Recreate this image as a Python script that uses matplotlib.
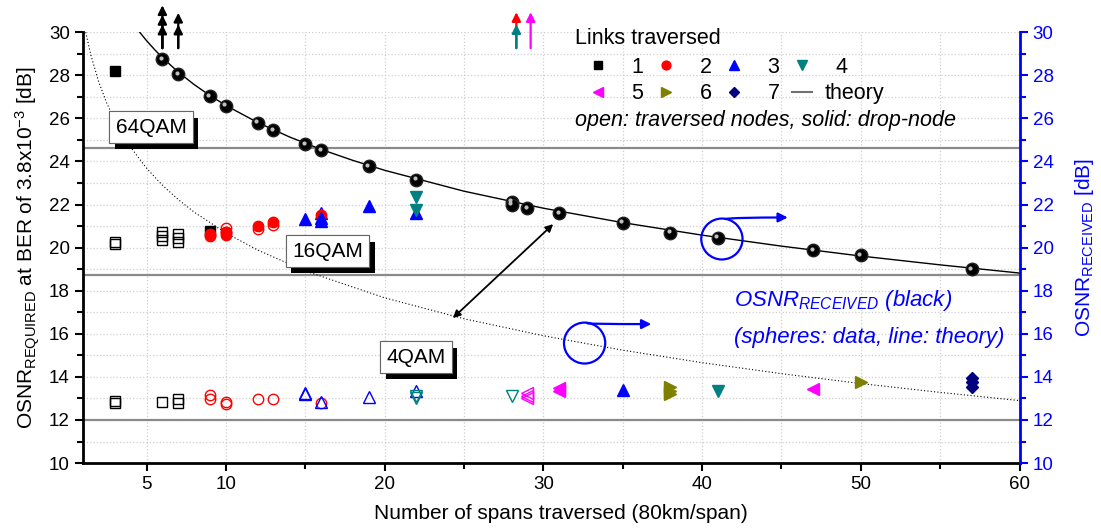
import numpy as np
import matplotlib.pyplot as plt
import matplotlib.patheffects as pe
import matplotlib.transforms as mtransforms
from matplotlib.patches import Ellipse
from matplotlib.lines import Line2D
from matplotlib.ticker import MultipleLocator, FixedLocator

plt.rcParams['font.family'] = ['Liberation Sans', 'DejaVu Sans']
plt.rcParams['mathtext.fontset'] = 'custom'
plt.rcParams['mathtext.rm'] = 'Liberation Sans'
plt.rcParams['mathtext.it'] = 'Liberation Sans:italic'
plt.rcParams['mathtext.bf'] = 'Liberation Sans:bold'

# received OSNR (spheres) and its theory line
rx_spans = [6, 7, 9, 10, 12, 13, 15, 16, 19, 22, 28, 28, 29, 31, 35, 38, 41, 47, 50, 57]
rx_osnr = [28.75, 28.05, 27.03, 26.57, 25.8, 25.45, 24.8, 24.52, 23.78, 23.15,
           22.12, 21.98, 21.83, 21.6, 21.14, 20.7, 20.45, 19.88, 19.65, 19.0]
rx_theory_spans = [4.57, 5, 5.5, 6, 7, 8, 9, 10, 12, 14, 16, 18, 20, 25, 30, 35, 40, 45, 50, 55, 60]
rx_theory_osnr = [30.0, 29.61, 29.2, 28.82, 28.15, 27.57, 27.06, 26.6, 25.81, 25.14, 24.56,
                  24.05, 23.59, 22.62, 21.83, 21.16, 20.58, 20.07, 19.61, 19.2, 18.82]

# dotted curve: received OSNR shifted down
req_theory_spans = [1.17, 1.5, 2, 2.5, 3, 4, 5, 6, 7, 8, 10, 12, 15, 20, 25, 30, 35, 40, 45, 50, 55, 60]
req_theory_osnr = [30.0, 28.92, 27.67, 26.7, 25.91, 24.66, 23.69, 22.9, 22.23, 21.65, 20.68,
                   19.89, 18.92, 17.67, 16.7, 15.91, 15.24, 14.66, 14.15, 13.69, 13.28, 12.9]

# modulation format thresholds
thresholds = [24.62, 18.72, 12.0]
formats = ['64QAM', '16QAM', '4QAM']
format_box_x = [5.28, 16.4, 21.97]
format_box_y = [25.59, 19.84, 14.92]

# required OSNR per number of links traversed (open / solid)
link1_open_n = [3, 3, 6, 6, 6, 7, 7, 7, 3, 3, 6, 7, 7]
link1_open_y = [20.15, 20.25, 20.35, 20.53, 20.72, 20.26, 20.44, 20.63, 12.78, 12.9, 12.83, 12.78, 12.97]
link1_solid_n = [3, 9]
link1_solid_y = [28.19, 20.75]
link2_open_n = [10, 10, 12, 13, 9, 9, 10, 10, 12, 13, 16]
link2_open_y = [20.9, 20.72, 20.86, 21.05, 12.97, 13.15, 12.74, 12.83, 12.97, 12.97, 12.8]
link2_solid_n = [9, 9, 10, 10, 12, 13, 16]
link2_solid_y = [20.55, 20.63, 20.58, 20.72, 21.0, 21.18, 21.5]
link3_open_n = [16, 15, 15, 16, 19, 22]
link3_open_y = [21.6, 13.2, 13.24, 12.83, 13.06, 13.35]
link3_solid_n = [15, 16, 16, 19, 22, 35]
link3_solid_y = [21.32, 21.23, 21.37, 21.93, 21.6, 13.38]
link4_open_n = [22, 22, 28]
link4_open_y = [13.0, 13.1, 13.1]
link4_solid_n = [22, 22, 41]
link4_solid_y = [22.34, 21.74, 13.35]
link5_open_n = [29, 29, 29]
link5_open_y = [13.0, 13.1, 13.24]
link5_solid_n = [31, 31, 47]
link5_solid_y = [13.5, 13.35, 13.45]
link6_solid_n = [38, 38, 38, 50]
link6_solid_y = [13.55, 13.35, 13.2, 13.75]
link7_solid_n = [57, 57, 57]
link7_solid_y = [13.95, 13.75, 13.55]

# off-scale received values shown as arrows (x, tip, color)
up_arrows = [(6, 31.25, 'black'), (6, 30.8, 'black'), (6, 30.35, 'black'),
             (7, 30.9, 'black'), (7, 30.35, 'black'),
             (28.3, 30.93, 'red'), (28.3, 30.37, '#008080'), (29.2, 30.93, '#ff00ff')]
arrow_base = 29.26

link_styles = {
    1: ('s', 'black', 6.5),
    2: ('o', 'red', 7.5),
    3: ('^', 'blue', 8.5),
    4: ('v', '#008080', 8.5),
    5: ('<', '#ff00ff', 8.5),
    6: ('>', '#808000', 8.5),
    7: ('D', '#000080', 6.5),
}

fig = plt.figure(figsize=(11.01, 5.28), dpi=100)
ax = fig.add_axes([0.0754, 0.123, 0.8506, 0.816])
ax.set_xlim(1, 60)
ax.set_ylim(10, 30)

ax.xaxis.set_major_locator(FixedLocator([5, 10, 20, 30, 40, 50, 60]))
ax.xaxis.set_minor_locator(FixedLocator([15, 25, 35, 45, 55]))
ax.yaxis.set_major_locator(MultipleLocator(2))
ax.yaxis.set_minor_locator(MultipleLocator(1))
ax.grid(which='both', color='#cfcfcf', linestyle=':', linewidth=0.9)
ax.set_axisbelow(True)
ax.tick_params(which='both', direction='out', width=1.5, labelsize=13.5)
ax.tick_params(which='major', length=6)
ax.tick_params(which='minor', length=4)
for s in ['top', 'right']:
    ax.spines[s].set_visible(False)
for s in ['left', 'bottom']:
    ax.spines[s].set_linewidth(2)

for v in thresholds:
    ax.axhline(v, color='#8a8a8a', lw=1.6, zorder=1)

ax.plot(req_theory_spans, req_theory_osnr, color='black', lw=0.8, linestyle=(0, (1, 2)), zorder=2)
ax.plot(rx_theory_spans, rx_theory_osnr, color='black', lw=1.0, zorder=2)

def draw_link(k, n, y, filled):
    m, c, ms = link_styles[k]
    if filled:
        ax.plot(n, y, linestyle='none', marker=m, ms=ms, mfc=c, mec=c, mew=1, zorder=4)
    else:
        ax.plot(n, y, linestyle='none', marker=m, ms=ms, mfc='none', mec=c, mew=1, zorder=3)

draw_link(1, link1_open_n, link1_open_y, False)
draw_link(2, link2_open_n, link2_open_y, False)
draw_link(3, link3_open_n, link3_open_y, False)
draw_link(4, link4_open_n, link4_open_y, False)
draw_link(5, link5_open_n, link5_open_y, False)
draw_link(1, link1_solid_n, link1_solid_y, True)
draw_link(2, link2_solid_n, link2_solid_y, True)
draw_link(3, link3_solid_n, link3_solid_y, True)
draw_link(4, link4_solid_n, link4_solid_y, True)
draw_link(5, link5_solid_n, link5_solid_y, True)
draw_link(6, link6_solid_n, link6_solid_y, True)
draw_link(7, link7_solid_n, link7_solid_y, True)

# spheres: black disc plus a small highlight
ax.plot(rx_spans, rx_osnr, linestyle='none', marker='o', ms=9, mfc='black', mec='#222222', zorder=5)
hl = mtransforms.offset_copy(ax.transData, fig=fig, x=-1.6, y=1.6, units='dots')
ax.plot(rx_spans, rx_osnr, linestyle='none', marker='o', ms=3.0, mfc='#c0c0c0', mec='none',
        transform=hl, zorder=6)

for x, tip, c in up_arrows:
    ax.annotate('', xy=(x, tip), xytext=(x, arrow_base), annotation_clip=False,
                arrowprops=dict(arrowstyle='-|>', color=c, lw=1.6, mutation_scale=13,
                                shrinkA=0, shrinkB=0))

# format labels with drop shadow
for name, bx, by in zip(formats, format_box_x, format_box_y):
    t = ax.text(bx, by, name, ha='center', va='center', fontsize=15, zorder=7,
                bbox=dict(boxstyle='square,pad=0.3', fc='white', ec='#666666', lw=0.8))
    t.get_bbox_patch().set_path_effects([
        pe.withSimplePatchShadow(offset=(4, -4.5), shadow_rgbFace='black', alpha=1.0),
        pe.Normal()])

# gap arrow between theory curves
ax.annotate('', xy=(30.62, 21.09), xytext=(24.3, 16.73),
            arrowprops=dict(arrowstyle='<|-|>', color='black', lw=1.3, mutation_scale=11,
                            shrinkA=0, shrinkB=0), zorder=6)

# circles pointing to the right axis
for cx, cy, ax_end, ay in [(41.25, 20.4, 45.4, 21.4), (32.6, 15.57, 36.8, 16.45)]:
    ax.add_patch(Ellipse((cx, cy), width=2.6, height=1.9, fill=False, ec='blue', lw=1.6, zorder=6))
    ax.annotate('', xy=(ax_end, ay), xytext=(cx + 0.2, cy + 0.93),
                arrowprops=dict(arrowstyle='-|>', color='blue', lw=1.6, mutation_scale=14,
                                shrinkA=0, shrinkB=0,
                                connectionstyle='angle3,angleA=10,angleB=0'), zorder=6)

ax.text(42.0, 17.56, r'$OSNR_{RECEIVED}$ (black)', color='blue', fontsize=16,
        style='italic', va='center', ha='left')
ax.text(42.0, 15.85, '(spheres: data, line: theory)', color='blue', fontsize=16,
        style='italic', va='center', ha='left')

# legend
handles = []
for k in [1, 5, 2, 6, 3, 7, 4]:
    m, c, ms = link_styles[k]
    handles.append(Line2D([], [], linestyle='none', marker=m, color=c, ms=ms * 0.85))
handles.append(Line2D([], [], color='#707070', lw=1.5))
labels = ['  1', '  5', '  2', '  6', '  3', '  7', '  4', 'theory']
ax.legend(handles, labels, ncol=4, loc='upper left', bbox_to_anchor=(0.523, 0.978),
          frameon=False, fontsize=15.5, handlelength=0.9, handletextpad=0.6,
          columnspacing=0.55, labelspacing=0.25, borderpad=0.2)
ax.text(32.0, 29.7, 'Links traversed', fontsize=15.5, va='center', ha='left')
ax.text(32.0, 25.9, 'open: traversed nodes, solid: drop-node', fontsize=15.5, style='italic',
        va='center', ha='left')

ax.set_xlabel('Number of spans traversed (80km/span)', fontsize=15)
ax.xaxis.set_label_coords(0.51, -0.094)
ax.set_ylabel(r'OSNR$_{\mathrm{REQUIRED}}$ at BER of 3.8x10$^{-3}$ [dB]', fontsize=15, labelpad=5)

ax2 = ax.twinx()
ax2.set_ylim(10, 30)
ax2.yaxis.set_major_locator(MultipleLocator(2))
ax2.yaxis.set_minor_locator(MultipleLocator(1))
for s in ['top', 'left', 'bottom']:
    ax2.spines[s].set_visible(False)
ax2.spines['right'].set_color('blue')
ax2.spines['right'].set_linewidth(2)
ax2.tick_params(which='both', direction='out', width=1.5, colors='blue', labelsize=13.5)
ax2.tick_params(which='major', length=6)
ax2.tick_params(which='minor', length=4)
ax2.set_ylabel(r'OSNR$_{\mathrm{RECEIVED}}$ [dB]', color='blue', fontsize=15, labelpad=14)

fig.savefig('out.png', dpi=100)
